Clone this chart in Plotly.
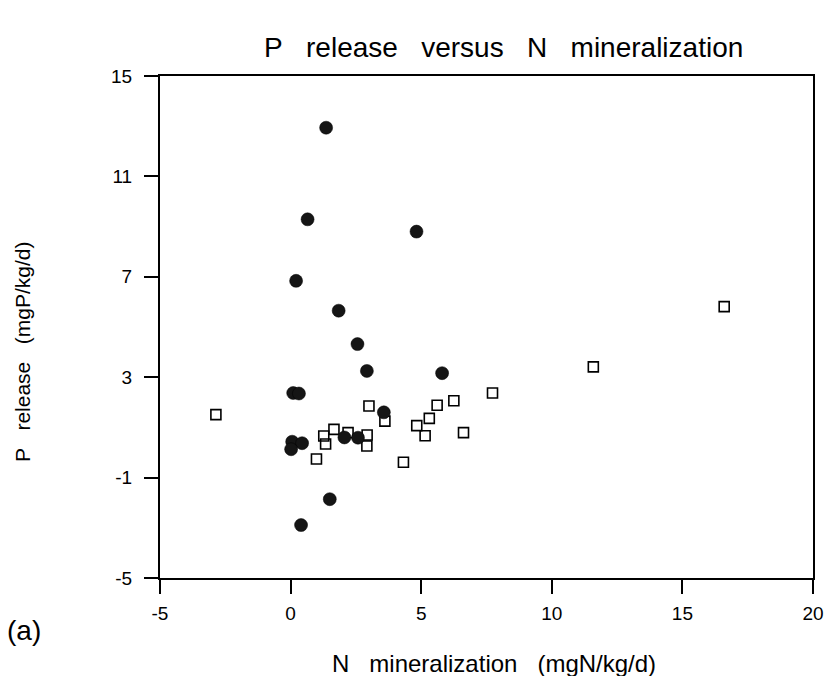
import plotly.graph_objects as go

# Filled circles
circ_x = [1.36, 0.65, 4.82, 0.21, 1.84, 2.56, 2.92, 5.80, 0.10, 0.32,
          3.57, 0.06, 0.44, 0.02, 2.06, 2.58, 1.50, 0.40]
circ_y = [12.94, 9.29, 8.80, 6.84, 5.65, 4.32, 3.25, 3.16, 2.37, 2.35,
          1.60, 0.43, 0.37, 0.13, 0.60, 0.59, -1.86, -2.89]

# Open squares
sq_x = [-2.86, 3.00, 3.61, 1.66, 2.20, 1.27, 1.34, 2.93, 2.92, 0.99,
        4.32, 7.73, 5.61, 6.25, 5.31, 4.83, 5.15, 6.62, 11.59, 16.60]
sq_y = [1.51, 1.85, 1.25, 0.92, 0.79, 0.66, 0.34, 0.70, 0.26, -0.26,
        -0.39, 2.37, 1.88, 2.06, 1.36, 1.07, 0.67, 0.79, 3.41, 5.81]

x_ticks = [-5, 0, 5, 10, 15, 20]
x_tick_text = ["-5", "0", "5", "10", "15", "20"]
y_ticks = [-5, -1, 3, 7, 11, 15]
y_tick_text = ["-5", "-1", "3", "7", "11", "15"]

FONT = "Liberation Sans, Arial, Helvetica, sans-serif"


def spaced(*words, n=3):
    return ("\u00a0" * n).join(words)


fig = go.Figure()
fig.add_trace(go.Scatter(
    x=sq_x, y=sq_y, mode="markers",
    marker=dict(symbol="square-open", size=10, color="black",
                line=dict(width=1.6, color="black")),
    showlegend=False,
))
fig.add_trace(go.Scatter(
    x=circ_x, y=circ_y, mode="markers",
    marker=dict(symbol="circle", size=13, color="#151515",
                line=dict(width=0.5, color="black")),
    showlegend=False,
))

axis_common = dict(
    showline=True, linecolor="black", linewidth=2, mirror=True,
    ticks="outside", ticklen=14, tickwidth=1.5, tickcolor="black",
    showgrid=False, zeroline=False,
    tickfont=dict(family=FONT, size=19, color="black"),
)

fig.update_layout(
    width=834, height=676,
    margin=dict(l=160, r=10, t=76, b=98),
    paper_bgcolor="white", plot_bgcolor="white",
    font=dict(family=FONT, color="black"),
    xaxis=dict(range=[-5, 20], tickvals=x_ticks, ticktext=x_tick_text,
               ticklabelstandoff=3, **axis_common),
    yaxis=dict(range=[-5, 15], tickvals=y_ticks, ticktext=y_tick_text,
               ticklabelstandoff=8, **axis_common),
    annotations=[
        dict(text=spaced("P", "release", "versus", "N", "mineralization", n=3),
             xref="paper", yref="paper", x=0.526, y=1.0, yshift=29,
             showarrow=False, font=dict(size=28, family=FONT),
             xanchor="center", yanchor="middle"),
        dict(text=spaced("N", "mineralization", "(mgN/kg/d)", n=3),
             xref="paper", yref="paper", x=0.512, y=0.0, yshift=-85,
             showarrow=False, font=dict(size=24, family=FONT),
             xanchor="center", yanchor="middle"),
        dict(text=spaced("P", "release", "(mgP/kg/d)", n=3),
             xref="paper", yref="paper", x=0.0, xshift=-138, y=0.45,
             textangle=-90, showarrow=False, font=dict(size=21, family=FONT),
             xanchor="center", yanchor="middle"),
        dict(text="(a)",
             xref="paper", yref="paper", x=0.0, xshift=-136, y=0.0, yshift=-52,
             showarrow=False, font=dict(size=28, family=FONT),
             xanchor="center", yanchor="middle"),
    ],
)

fig.write_html("out.html")
